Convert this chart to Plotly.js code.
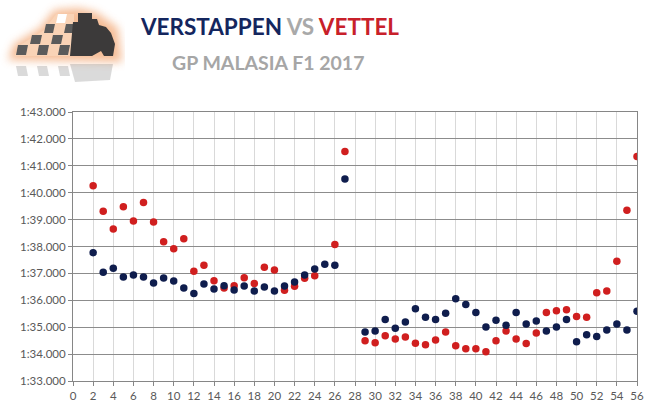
<!DOCTYPE html>
<html>
<head>
<meta charset="utf-8">
<script src="https://cdn.plot.ly/plotly-3.0.1.min.js"></script>
<style>
  body { margin: 0; background: #fff; }
  #chart { width: 650px; height: 406px; }
</style>
</head>
<body>
<div id="chart"></div>
<script>
// lap times in seconds (1:36.500 -> 96.5)
var verLaps = [2, 3, 4, 5, 6, 7, 8, 9, 10, 11, 12, 13, 14, 15, 16, 17, 18, 19, 20, 21, 22, 23, 24, 25, 26, 27,
  29, 30, 31, 32, 33, 34, 35, 36, 37, 38, 39, 40, 41, 42, 43, 44, 45, 46, 47, 48, 49, 50, 51, 52, 53, 54, 55, 56];
var verTimes = [97.77, 97.04, 97.19, 96.87, 96.94, 96.87, 96.64, 96.83, 96.72, 96.46, 96.25, 96.61, 96.42, 96.54,
  96.38, 96.53, 96.35, 96.49, 96.35, 96.53, 96.68, 96.94, 97.16, 97.34, 97.30, 100.51,
  94.82, 94.86, 95.29, 94.96, 95.19, 95.69, 95.37, 95.29, 95.52, 96.06, 95.84, 95.55, 95.01, 95.26,
  95.07, 95.55, 95.12, 95.23, 94.86, 95.01, 95.29, 94.46, 94.72, 94.65, 94.90, 95.12, 94.90, 95.59];

var vetLaps = [2, 3, 4, 5, 6, 7, 8, 9, 10, 11, 12, 13, 14, 15, 16, 17, 18, 19, 20, 21, 22, 23, 24, 26, 27,
  29, 30, 31, 32, 33, 34, 35, 36, 37, 38, 39, 40, 41, 42, 43, 44, 45, 46, 47, 48, 49, 50, 51, 52, 53, 54, 55, 56];
var vetTimes = [100.26, 99.31, 98.65, 99.48, 98.95, 99.64, 98.91, 98.18, 97.92, 98.29, 97.08, 97.30, 96.73, 96.46,
  96.54, 96.84, 96.62, 97.23, 97.13, 96.37, 96.52, 96.82, 96.91, 98.07, 101.53,
  94.50, 94.42, 94.68, 94.56, 94.64, 94.40, 94.35, 94.52, 94.82, 94.31, 94.20, 94.20, 94.09, 94.50,
  94.86, 94.56, 94.39, 94.78, 95.55, 95.61, 95.65, 95.40, 95.37, 96.28, 96.35, 97.45, 99.35, 101.35];

var yTicks = [93, 94, 95, 96, 97, 98, 99, 100, 101, 102, 103];
var yLabels = ["1:33.000", "1:34.000", "1:35.000", "1:36.000", "1:37.000", "1:38.000",
  "1:39.000", "1:40.000", "1:41.000", "1:42.000", "1:43.000"];

// small logo drawn as svg
var logo = "<svg xmlns='http://www.w3.org/2000/svg' width='125' height='95' viewBox='0 0 125 95'>" +
  "<defs><filter id='b' x='-20%' y='-20%' width='140%' height='140%'><feGaussianBlur stdDeviation='4'/></filter></defs>" +
  "<path d='M8 60 L14 44 L40 28 L54 10 L78 8 L96 12 L118 28 L122 62 Z' fill='#f2a774' opacity='0.75' filter='url(#b)'/>" +
  "<path d='M14 56 L20 45 L44 30 L56 14 L74 14 L74 56 Z' fill='#f9d3b6'/>" +
  "<g fill='#5b5b5b'>" +
  "<path d='M46 24 L55 24 L53 33 L44 33 Z'/><path d='M66 24 L75 24 L73 33 L64 33 Z'/>" +
  "<path d='M32 35 L42 35 L40 44 L30 44 Z'/><path d='M53 35 L63 35 L61 44 L51 44 Z'/>" +
  "<path d='M18 45 L28 45 L26 55 L16 55 Z'/><path d='M39 45 L49 45 L47 55 L37 55 Z'/><path d='M60 45 L70 45 L68 55 L58 55 Z'/>" +
  "</g>" +
  "<path d='M58 14 L67 14 L65 23 L56 23 Z' fill='#fff'/>" +
  "<path d='M70 56 L73 22 L78 22 L78 13 L92 13 L92 19 L97 19 L99 25 L106 27 L111 33 L115 44 L113 56 L104 56 L101 51 L92 56 Z' fill='#3c3a3a'/>" +
  "<g fill='#5b5b5b' opacity='0.22'>" +
  "<path d='M16 66 L26 66 L28 76 L18 76 Z'/><path d='M37 66 L47 66 L49 76 L39 76 Z'/><path d='M58 66 L68 66 L70 76 L60 76 Z'/>" +
  "<path d='M70 64 L113 64 L110 80 L75 82 Z'/>" +
  "</g></svg>";
var logoSrc = "data:image/svg+xml;charset=utf-8," + encodeURIComponent(logo);

var tickFont = { family: "Lato, 'Liberation Sans', sans-serif", size: 11.5, color: "#595959" };

var traces = [
  {
    x: vetLaps, y: vetTimes, type: "scatter", mode: "markers", name: "Vettel",
    marker: { color: "#d01f1f", size: 7.5 }
  },
  {
    x: verLaps, y: verTimes, type: "scatter", mode: "markers", name: "Verstappen",
    marker: { color: "#0f1d4d", size: 7.5 }
  }
];

var layout = {
  width: 650, height: 406,
  margin: { l: 73, r: 13, t: 112, b: 25 },
  paper_bgcolor: "#fff", plot_bgcolor: "#fff",
  showlegend: false,
  hovermode: false,
  title: {
    text: "<b><span style='color:#14265e'>VERSTAPPEN</span> <span style='color:#a9a9a9'>VS</span> <span style='color:#c8202a'>VETTEL</span></b>",
    font: { family: "Lato, 'Open Sans', sans-serif", size: 22.5 },
    x: 270 / 650, xanchor: "center", xref: "container",
    y: 1 - 27 / 406, yanchor: "middle", yref: "container"
  },
  annotations: [{
    text: "<b>GP MALASIA F1 2017</b>",
    xref: "paper", yref: "paper",
    x: (268 - 73) / 564, y: (381 - 63) / 269,
    xanchor: "center", yanchor: "middle", showarrow: false,
    font: { family: "Lato, 'Open Sans', sans-serif", size: 19.5, color: "#a6a6a6" }
  }],
  images: [{
    source: logoSrc, xref: "paper", yref: "paper",
    x: -73 / 564, y: 381 / 269, sizex: 125 / 564, sizey: 95 / 269,
    xanchor: "left", yanchor: "top", sizing: "stretch", layer: "above"
  }],
  xaxis: {
    range: [0, 56], tick0: 0, dtick: 2,
    showgrid: true, gridcolor: "#d9d9d9", gridwidth: 1,
    zeroline: false,
    showline: true, linecolor: "#868686", linewidth: 1, mirror: true,
    ticks: "outside", ticklen: 4, tickcolor: "#868686",
    tickfont: tickFont, fixedrange: true
  },
  yaxis: {
    range: [93, 103], tickvals: yTicks, ticktext: yLabels,
    showgrid: true, gridcolor: "#8c8c8c", gridwidth: 1,
    zeroline: false,
    showline: true, linecolor: "#868686", linewidth: 1, mirror: true,
    ticks: "outside", ticklen: 4, tickcolor: "#868686",
    tickfont: tickFont, fixedrange: true
  }
};

Plotly.newPlot(document.getElementById("chart"), traces, layout, { displayModeBar: false, staticPlot: true });
</script>
</body>
</html>
